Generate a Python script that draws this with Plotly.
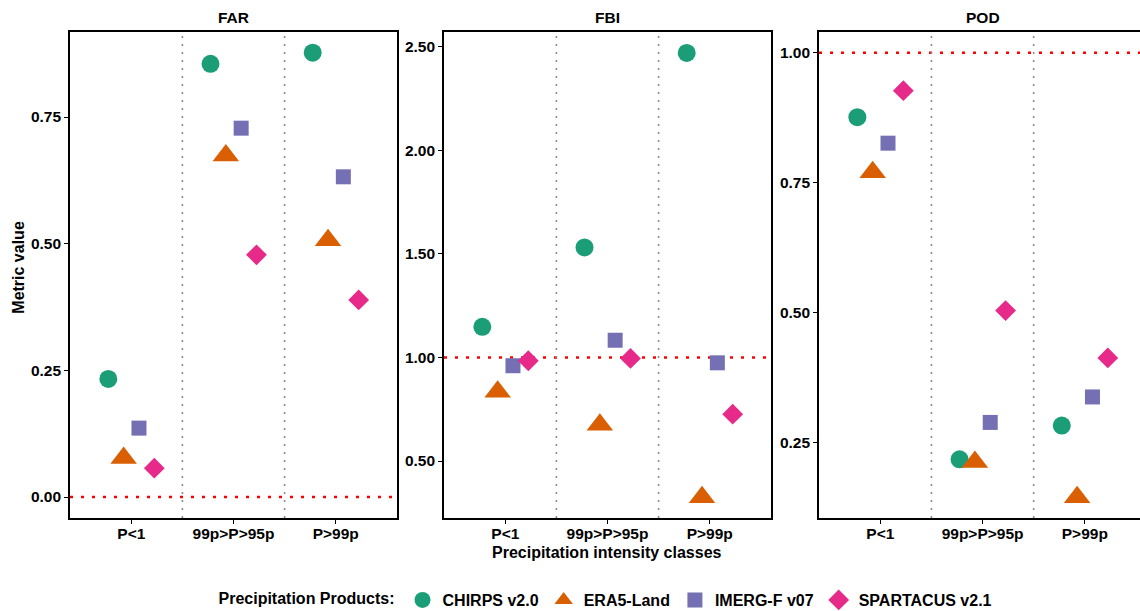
import plotly.graph_objects as go

categories = ["P<1", "99p>P>95p", "P>99p"]
products = ["CHIRPS v2.0", "ERA5-Land", "IMERG-F v07", "SPARTACUS v2.1"]
metrics = ["FAR", "FBI", "POD"]

far_chirps = [0.233, 0.855, 0.877]
far_era5 = [0.077, 0.674, 0.507]
far_imerg = [0.136, 0.728, 0.632]
far_spartacus = [0.057, 0.478, 0.389]

fbi_chirps = [1.148, 1.531, 2.470]
fbi_era5 = [0.834, 0.675, 0.325]
fbi_imerg = [0.960, 1.083, 0.974]
fbi_spartacus = [0.984, 0.995, 0.726]

pod_chirps = [0.876, 0.218, 0.283]
pod_era5 = [0.770, 0.213, 0.145]
pod_imerg = [0.826, 0.289, 0.338]
pod_spartacus = [0.927, 0.504, 0.413]

reference_values = [0.0, 1.0, 1.0]

values = {
    "FAR": [far_chirps, far_era5, far_imerg, far_spartacus],
    "FBI": [fbi_chirps, fbi_era5, fbi_imerg, fbi_spartacus],
    "POD": [pod_chirps, pod_era5, pod_imerg, pod_spartacus],
}

colors = ["#1B9E77", "#D95F02", "#7570B3", "#E7298A"]
symbols = ["circle", "triangle-up", "square", "diamond"]
sizes = [18, 23, 15, 16]

FONT = "Liberation Sans, Arial, sans-serif"
W, H = 1140, 611

x_domains = [[70 / W, 397 / W], [444 / W, 771 / W], [819 / W, 1.0]]
y_domain = [(H - 518) / H, (H - 32) / H]
x_ranges = [[-0.6, 2.6], [-0.6, 2.6], [-0.6, 2.54]]
y_ranges = [[-0.0414, 0.9178], [0.2249, 2.571], [0.1052, 1.0398]]
y_ticks = [[0, 0.25, 0.5, 0.75], [0.5, 1.0, 1.5, 2.0, 2.5], [0.25, 0.5, 0.75, 1.0]]

fig = go.Figure()

for m_i, metric in enumerate(metrics):
    xa = "x" if m_i == 0 else f"x{m_i + 1}"
    ya = "y" if m_i == 0 else f"y{m_i + 1}"
    for p_i, prod in enumerate(products):
        fig.add_trace(go.Scatter(
            x=categories, y=values[metric][p_i],
            mode="markers", name=prod, legendgroup=prod,
            showlegend=(m_i == 0),
            marker=dict(color=colors[p_i], symbol=symbols[p_i], size=sizes[p_i],
                        line=dict(width=0)),
            xaxis=xa, yaxis=ya, cliponaxis=False,
        ))

axis_font = dict(family=FONT, size=15.5, color="black", weight="bold")
title_font = dict(family=FONT, size=16, color="black", weight="bold")

layout = dict(
    width=W, height=H,
    margin=dict(l=0, r=0, t=0, b=0, autoexpand=False),
    paper_bgcolor="white", plot_bgcolor="white",
    scattermode="group", scattergap=0.4,
    showlegend=True,
    legend=dict(
        orientation="h", x=607 / W, xanchor="center", y=(H - 600) / H, yanchor="middle",
        title=dict(text="Precipitation Products:", side="left", font=title_font),
        font=title_font,
        itemsizing="trace",
    ),
)

shapes = []
annotations = []
for m_i, metric in enumerate(metrics):
    sfx = "" if m_i == 0 else str(m_i + 1)
    mirror_y = m_i < 2
    layout[f"xaxis{sfx}"] = dict(
        domain=x_domains[m_i], range=x_ranges[m_i], type="category",
        categoryorder="array", categoryarray=categories,
        anchor=f"y{sfx}", showgrid=False, zeroline=False,
        showline=True, linecolor="black", linewidth=1.6, mirror=True,
        ticks="outside", ticklen=4, tickwidth=1.2, tickcolor="black",
        ticklabelstandoff=-3,
        tickfont=axis_font, fixedrange=True, automargin=False,
    )
    layout[f"yaxis{sfx}"] = dict(
        domain=y_domain, range=y_ranges[m_i], anchor=f"x{sfx}",
        showgrid=False, zeroline=False,
        showline=True, linecolor="black", linewidth=1.6, mirror=mirror_y,
        ticks="outside", ticklen=4, tickwidth=1.2, tickcolor="black",
        tickvals=y_ticks[m_i], tickformat=".2f",
        tickfont=axis_font, fixedrange=True, automargin=False,
    )
    shapes.append(dict(
        type="line", xref=f"x{sfx} domain", yref=f"y{sfx}",
        x0=0, x1=1, y0=reference_values[m_i], y1=reference_values[m_i],
        line=dict(color="red", width=2.6, dash="3px,8px"), layer="below",
    ))
    for sep in [0.5, 1.5]:
        shapes.append(dict(
            type="line", xref=f"x{sfx}", yref=f"y{sfx} domain",
            x0=sep, x1=sep, y0=0, y1=1,
            line=dict(color="#8c8c8c", width=1.6, dash="2px,6px"), layer="below",
        ))
    annotations.append(dict(
        text=metric, xref="paper", yref="paper",
        x=sum(x_domains[m_i]) / 2 if m_i < 2 else (819 + 327 / 2) / W,
        y=(H - 18) / H, xanchor="center", yanchor="middle", showarrow=False,
        font=dict(family=FONT, size=15.5, color="black", weight="bold"),
    ))

annotations.append(dict(
    text="Metric value", xref="paper", yref="paper", x=18.7 / W, y=(H - 267) / H,
    textangle=-90, xanchor="center", yanchor="middle", showarrow=False,
    font=title_font,
))
annotations.append(dict(
    text="Precipitation intensity classes", xref="paper", yref="paper",
    x=607 / W, y=(H - 552) / H, xanchor="center", yanchor="middle", showarrow=False,
    font=title_font,
))

layout["shapes"] = shapes
layout["annotations"] = annotations
fig.update_layout(**layout)

fig.write_html(
    "out.html",
    config={"displayModeBar": False},
    post_script="document.body.style.margin='0px';document.body.style.overflow='hidden';",
)
